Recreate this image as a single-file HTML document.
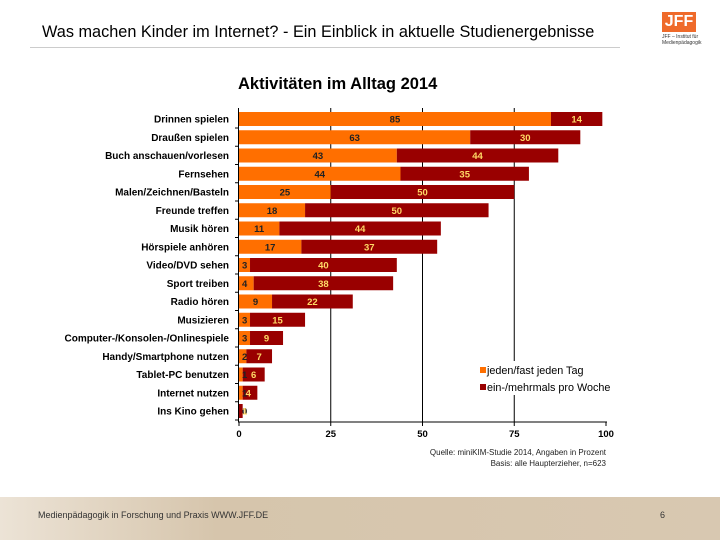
<!DOCTYPE html>
<html><head><meta charset="utf-8"><style>
body{margin:0;width:720px;height:540px;overflow:hidden;background:#fff;font-family:"Liberation Sans",sans-serif;position:relative}
</style></head><body>
<div style="position:absolute;left:42px;top:23px;font-size:16.3px;color:#000">Was machen Kinder im Internet? - Ein Einblick in aktuelle Studienergebnisse</div>
<div style="position:absolute;left:30px;top:47px;width:590px;height:1px;background:#ccc"></div>
<div style="position:absolute;left:662px;top:12px;width:34px;height:20px;background:#ef6a2a;color:#fff;font-weight:bold;font-size:16px;line-height:20px;text-align:center">JFF</div>
<div style="position:absolute;left:662px;top:34px;font-size:5px;line-height:6px;color:#333">JFF – Institut für<br>Medienpädagogik</div>
<svg width="720" height="540" style="position:absolute;left:0;top:0" id="svg"></svg>
<div style="position:absolute;left:0;top:497px;width:720px;height:43px;background:linear-gradient(90deg,#ece3d6,#d6c5ac 30%,#d8c8b1)"></div>
<div style="position:absolute;left:38px;top:510px;font-size:9px;color:#333">Medienpädagogik in Forschung und Praxis WWW.JFF.DE</div>
<div style="position:absolute;left:660px;top:510px;font-size:9px;color:#333">6</div>
<script>
const categories=["Drinnen spielen","Draußen spielen","Buch anschauen/vorlesen","Fernsehen","Malen/Zeichnen/Basteln","Freunde treffen","Musik hören","Hörspiele anhören","Video/DVD sehen","Sport treiben","Radio hören","Musizieren","Computer-/Konsolen-/Onlinespiele","Handy/Smartphone nutzen","Tablet-PC benutzen","Internet nutzen","Ins Kino gehen"];
const daily=[85,63,43,44,25,18,11,17,3,4,9,3,3,2,1,1,0];
const weekly=[14,30,44,35,50,50,44,37,40,38,22,15,9,7,6,4,1];
const ticks=[0,25,50,75,100];
const svg=document.getElementById('svg');
const NS='http://www.w3.org/2000/svg';
const x=v=>239+v*3.67, y=i=>119+i*18.25;
function mk(t,a,name){const e=document.createElementNS(NS,t);for(const k in a)e.setAttribute(k,a[k]);


svg.appendChild(e);return e;}
let t=mk('text',{x:238,y:89,'font-size':16.5,'font-weight':'bold',fill:'#000'},'chart-title');t.textContent='Aktivitäten im Alltag 2014';
ticks.slice(1,4).forEach(v=>mk('line',{x1:x(v),x2:x(v),y1:108,y2:422,stroke:'#000','stroke-width':1},'gridline'));
categories.forEach((c,i)=>{
 const cy=y(i);
 mk('rect',{x:x(0),y:cy-7,width:daily[i]*3.67,height:14,fill:'#ff6f00'},'bar-daily');
 mk('rect',{x:x(daily[i]),y:cy-7,width:weekly[i]*3.67,height:14,fill:'#990000'},'bar-weekly');
 let l=mk('text',{x:229,y:cy+3.5,'font-size':10,'font-weight':'bold','text-anchor':'end',fill:'#000'},'category-label');l.textContent=c;
 let dx=daily[i]>=6?x(daily[i]/2):x(0)+3;
 let d=mk('text',{x:dx,y:cy+3.5,'font-size':9.5,'font-weight':'bold','text-anchor':daily[i]>=6?'middle':'start',fill:'#222'},'value-daily');d.textContent=daily[i];
 let wx=weekly[i]>=6?x(daily[i]+weekly[i]/2):x(daily[i])+3;
 let w=mk('text',{x:wx,y:cy+3.5,'font-size':9.5,'font-weight':'bold','text-anchor':weekly[i]>=6?'middle':'start',fill:'#ffd966'},'value-weekly');w.textContent=weekly[i];
 mk('line',{x1:235,x2:239,y1:cy+9,y2:cy+9,stroke:'#000'},'y-tick');
});
mk('line',{x1:238.5,x2:238.5,y1:108,y2:422,stroke:'#000'},'y-axis');
mk('line',{x1:238,x2:607,y1:422,y2:422,stroke:'#000'},'x-axis');
ticks.forEach(v=>{mk('line',{x1:x(v),x2:x(v),y1:422,y2:426,stroke:'#000'},'x-tick');
 let e=mk('text',{x:x(v),y:437,'font-size':9.5,'font-weight':'bold','text-anchor':'middle'},'x-tick-label');e.textContent=v;});
mk('rect',{x:476,y:361,width:142,height:34,fill:'#fff'},'legend');
mk('rect',{x:480,y:367,width:6,height:6,fill:'#ff6f00'},'legend-swatch-daily');
t=mk('text',{x:487,y:374,'font-size':10.8,fill:'#000'},'legend-daily');t.textContent='jeden/fast jeden Tag';
mk('rect',{x:480,y:384,width:6,height:6,fill:'#990000'},'legend-swatch-weekly');
t=mk('text',{x:487,y:391,'font-size':10.8,fill:'#000'},'legend-weekly');t.textContent='ein-/mehrmals pro Woche';
t=mk('text',{x:606,y:455,'font-size':8,'text-anchor':'end',fill:'#222'},'source-note');t.textContent='Quelle: miniKIM-Studie 2014, Angaben in Prozent';
t=mk('text',{x:606,y:466,'font-size':8,'text-anchor':'end',fill:'#222'},'base-note');t.textContent='Basis: alle Haupterzieher, n=623';
</script>
</body></html>
